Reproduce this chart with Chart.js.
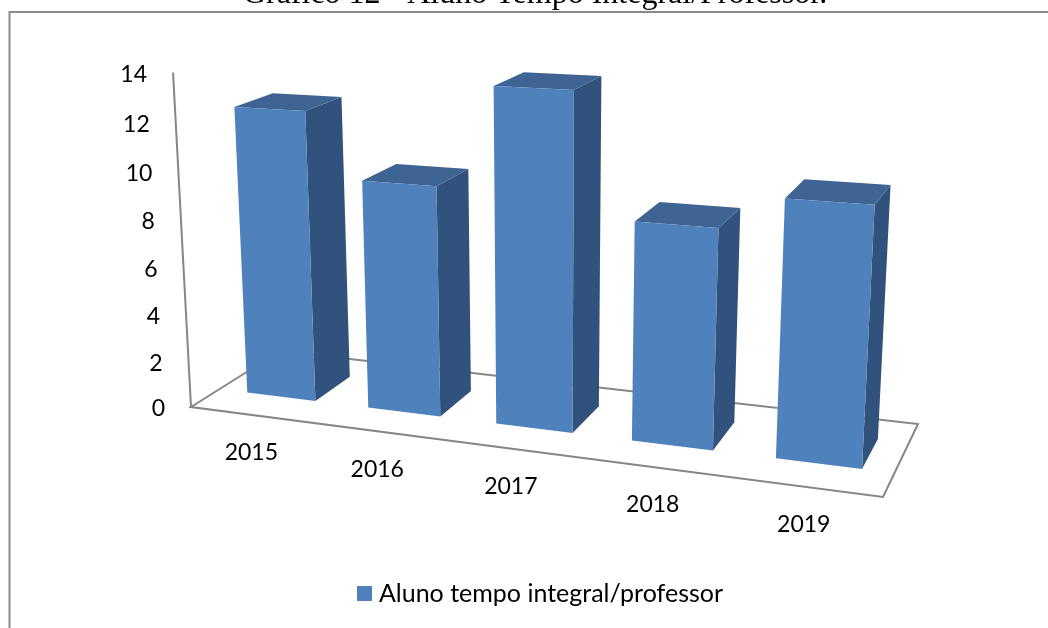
<!DOCTYPE html>
<html><head><meta charset="utf-8">
<script src="https://cdn.jsdelivr.net/npm/chart.js@4"></script>
<style>html,body{margin:0;padding:0;background:#fff;overflow:hidden}canvas{display:block}</style>
</head><body><canvas id="c" width="1048" height="628"></canvas>
<script>
const categories = ['2015','2016','2017','2018','2019'];
const seriesName = 'Aluno tempo integral/professor';
const seriesValues = [12.3, 9.6, 13.7, 8.8, 10.1];
const yTicks = {min:0, max:14, stepSize:2};
const titleText = 'Gráfico 12 - Aluno Tempo Integral/Professor.';

// 3D view used to project the library's scale positions
const floorQuad = [[191,407],[883,497],[918,424],[280,351]];
const vanish = [548,7060];
const heightK = 0.00342;
const depthFront = 0.33, depthBack = 0.75;
const barShiftY = 2;
const colors = {front:'#4F81BD', side:'#30527C', top:'#3D6492', line:'#868686', frame:'#8A8A8A', text:'#000'};
const tickFont = '23px Lato';

function makeHomography(q){
  const [[x0,y0],[x1,y1],[x2,y2],[x3,y3]] = q;
  const dx1=x1-x2, dx2=x3-x2, sx=x0-x1+x2-x3, dy1=y1-y2, dy2=y3-y2, sy=y0-y1+y2-y3;
  const den=dx1*dy2-dx2*dy1, g=(sx*dy2-dx2*sy)/den, h=(dx1*sy-sx*dy1)/den;
  const a=x1-x0+g*x1, b=x3-x0+h*x3, d=y1-y0+g*y1, e=y3-y0+h*y3;
  return (u,v)=>({X:a*u+b*v+x0, Y:d*u+e*v+y0, W:1+g*u+h*v});
}
const floor = makeHomography(floorQuad);
function project(u,v,value){
  const p=floor(u,v), c=heightK*value, w=p.W-c;
  return [(p.X-c*vanish[0])/w, (p.Y-c*vanish[1])/w];
}
function poly(ctx,pts,fill){
  ctx.beginPath(); pts.forEach((p,i)=>i?ctx.lineTo(p[0],p[1]+barShiftY):ctx.moveTo(p[0],p[1]+barShiftY)); ctx.closePath();
  ctx.fillStyle=fill; ctx.fill();
}
function stroke(ctx,pts,col,lw){
  ctx.beginPath(); pts.forEach((p,i)=>i?ctx.lineTo(p[0],p[1]):ctx.moveTo(p[0],p[1]));
  ctx.strokeStyle=col; ctx.lineWidth=lw; ctx.lineJoin='miter'; ctx.stroke();
}
// square legend swatch with a tight gap to the text
const swatch = document.createElement('canvas');
swatch.width = 15; swatch.height = 15;
const sctx = swatch.getContext('2d'); sctx.fillStyle = colors.front; sctx.fillRect(0,0,15,15);

const view3d = {
  id:'view3d',
  afterLayout(chart){ const t=chart.titleBlock; if(t){ t.right -= 15.5; } },
  beforeDatasetDraw(){ return false; },
  beforeDatasetsDraw(chart){
    const ctx=chart.ctx, xs=chart.scales.x, ys=chart.scales.y, H=chart.height, W=chart.width;
    ctx.save();
    // frame
    stroke(ctx,[[9.5,H+3],[9.5,12],[W+3,12]],colors.frame,2);
    // floor and axis
    const tops=project(0,0,ys.max);
    stroke(ctx,[project(0,0,0),tops],colors.line,2);
    stroke(ctx,[project(0,1,0),project(0,0,0),project(1,0,0),project(1,1,0),project(0,1,0)],colors.line,2);
    // y tick labels
    ctx.font=tickFont; ctx.fillStyle=colors.text; ctx.textAlign='right'; ctx.textBaseline='middle';
    ys.ticks.forEach(t=>{ const p=project(0,0,t.value); ctx.fillText(String(t.value),p[0]-26,p[1]+2); });
    // x tick labels
    ctx.textAlign='center';
    xs.getLabels().forEach((lab,i)=>{
      const u=(xs.getPixelForValue(i)-xs.left)/xs.width, p=project(u,0,0);
      ctx.fillText(lab,p[0],p[1]+38);
    });
    // bars
    chart.getDatasetMeta(0).data.forEach(el=>{
      const u0=(el.x-el.width/2-xs.left)/xs.width, u1=(el.x+el.width/2-xs.left)/xs.width, v=ys.getValueForPixel(el.y);
      const f=depthFront, b=depthBack;
      poly(ctx,[project(u1,f,0),project(u1,b,0),project(u1,b,v),project(u1,f,v)],colors.side);
      poly(ctx,[project(u0,f,v),project(u1,f,v),project(u1,b,v),project(u0,b,v)],colors.top);
      poly(ctx,[project(u0,f,0),project(u1,f,0),project(u1,f,v),project(u0,f,v)],colors.front);
    });
    ctx.restore();
  }
};
new Chart(document.getElementById('c'),{
  type:'bar',
  data:{labels:categories,datasets:[{label:seriesName,data:seriesValues,backgroundColor:colors.front,pointStyle:swatch,barPercentage:0.57,categoryPercentage:1}]},
  plugins:[view3d],
  options:{
    responsive:false, animation:false,
    layout:{padding:{left:37.5,bottom:12}},
    scales:{
      x:{display:false,grid:{display:false}},
      y:{display:false,min:yTicks.min,max:yTicks.max,ticks:{stepSize:yTicks.stepSize},grid:{display:false}}
    },
    plugins:{
      tooltip:{enabled:false},
      title:{display:true,text:titleText,color:'#000',font:{family:'"Liberation Serif"',size:32,weight:'normal'},padding:{top:-25,bottom:0}},
      legend:{display:true,position:'bottom',labels:{color:'#000',font:{family:'Lato',size:25},usePointStyle:true,pointStyleWidth:4,boxHeight:15,padding:10}}
    }
  }
});
</script></body></html>
